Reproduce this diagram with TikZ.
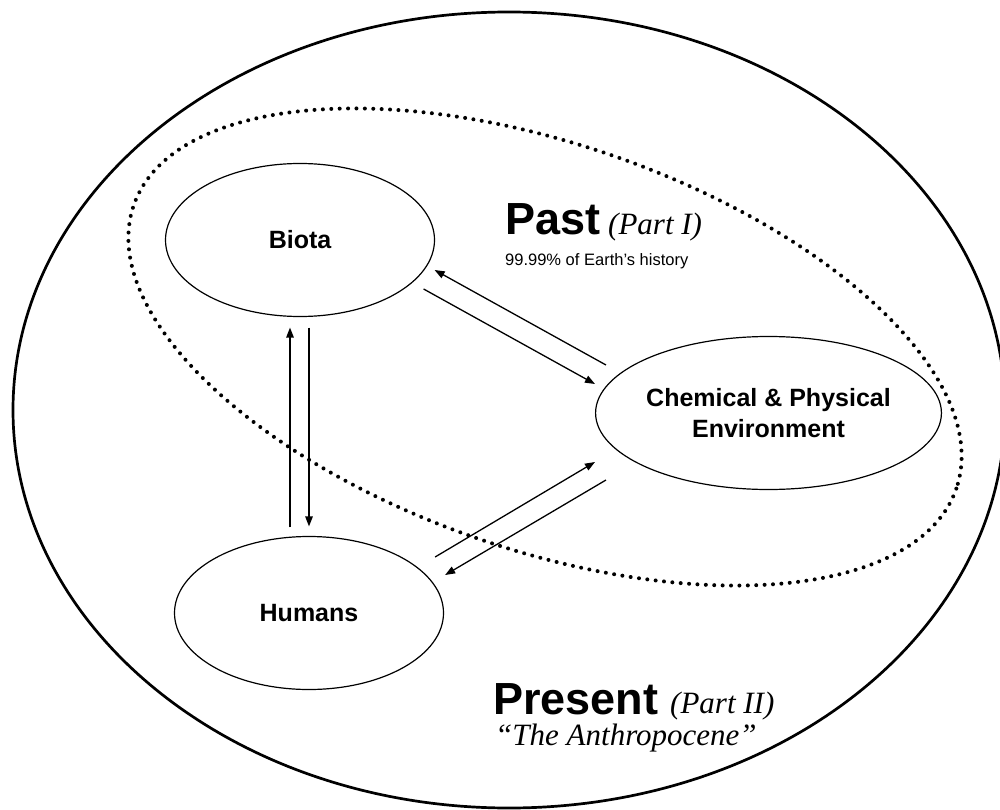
\documentclass[tikz,border=0pt]{standalone}
\usepackage{fontspec}
\setmainfont{Liberation Serif}
\setsansfont{Liberation Sans}
\usetikzlibrary{arrows.meta,shapes.geometric}

\tikzset{
  sphere/.style={draw, ellipse, line width=1.2pt, minimum width=269pt, minimum height=153pt,
    inner sep=0pt, align=center, font=\sffamily\bfseries\fontsize{25}{31}\selectfont},
  flux/.style={line width=1.3pt, -{Triangle[length=10pt,width=7.5pt]}},
  era/.style={anchor=base west, inner sep=0pt, text depth=0pt, font=\sffamily\bfseries\fontsize{45}{54}\selectfont},
  part/.style={anchor=base west, inner sep=0pt, text depth=0pt, font=\itshape\fontsize{31}{37}\selectfont},
}

\begin{document}
\begin{tikzpicture}[x=1pt, y=-1pt]
  \useasboundingbox (0,0) rectangle (1000,810);
  \clip (0,0) rectangle (1000,810);

  % Present and past
  \draw[line width=2.7pt] (509,410) ellipse [x radius=496, y radius=398];
  \draw[line width=4pt, line cap=round, dash pattern=on 0pt off 8.4pt]
    (545,347) ellipse [x radius=435, y radius=203, rotate=-19];

  % The three spheres
  \node[sphere] (biota) at (300,240) {Biota};
  \node[sphere] (humans) at (309,613) {Humans};
  \node[sphere] (env) at (768.5,413) {Chemical \& Physical\\Environment};

  % Fluxes between them
  \draw[flux] ([shift={(-19,-8.5)}]humans.north) -- ([shift={(-10,10.5)}]biota.south);
  \draw[flux] ([shift={(9,10.5)}]biota.south) -- ([shift={(0,-9.5)}]humans.north);
  \draw[flux] ([shift={(11,-48)}]env.west) -- ([shift={(-0.5,30)}]biota.east);
  \draw[flux] ([shift={(-11.5,49)}]biota.east) -- ([shift={(0,-29)}]env.west);
  \draw[flux] ([shift={(-9,-56)}]humans.east) -- ([shift={(0,49)}]env.west);
  \draw[flux] ([shift={(11,67)}]env.west) -- ([shift={(1,-38)}]humans.east);

  % Labels
  \node[era] (past) at (505,235) {Past};
  \node[part] (pastpart) at (608,235) {(Part I)};
  \node[anchor=base west, inner sep=0pt, font=\sffamily\fontsize{16.5}{20}\selectfont]
    (history) at (505,265) {99.99\% of Earth’s history};
  \node[era] (present) at (493,714) {Present};
  \node[part] (presentpart) at (670,713) {(Part II)};
  \node[part, text height=19pt] (anthro) at (495,745) {“The Anthropocene”};
\end{tikzpicture}
\end{document}
